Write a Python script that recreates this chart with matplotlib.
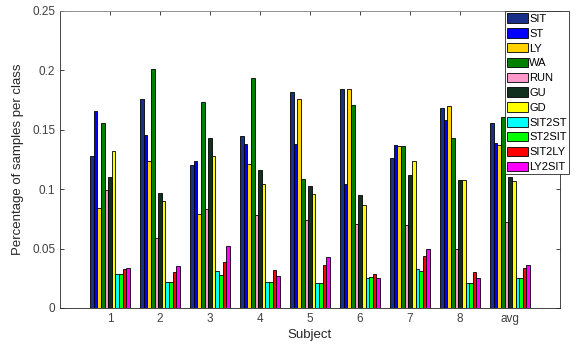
import matplotlib
matplotlib.use("Agg")
import matplotlib.pyplot as plt
import numpy as np

plt.rcParams['font.family'] = ['Liberation Sans', 'DejaVu Sans']

subjects = ["1", "2", "3", "4", "5", "6", "7", "8", "avg"]
classes = ["SIT", "ST", "LY", "WA", "RUN", "GU", "GD", "SIT2ST", "ST2SIT", "SIT2LY", "LY2SIT"]
colors = ["#1a2f8a", "#0000ff", "#ffd200", "#008000", "#ff99cc", "#12301e",
          "#ffff00", "#00ffff", "#00ff00", "#ff0000", "#ff00ff"]

# rows = subjects, columns = classes
values = np.array([
    [0.128, 0.166, 0.084, 0.156, 0.099, 0.110, 0.132, 0.029, 0.029, 0.033, 0.034],
    [0.176, 0.146, 0.124, 0.201, 0.059, 0.097, 0.090, 0.022, 0.022, 0.030, 0.035],
    [0.120, 0.124, 0.079, 0.173, 0.083, 0.143, 0.128, 0.031, 0.028, 0.039, 0.052],
    [0.145, 0.138, 0.121, 0.194, 0.078, 0.116, 0.104, 0.022, 0.022, 0.032, 0.027],
    [0.182, 0.138, 0.176, 0.109, 0.074, 0.103, 0.096, 0.021, 0.021, 0.036, 0.043],
    [0.184, 0.104, 0.184, 0.171, 0.071, 0.095, 0.087, 0.025, 0.026, 0.029, 0.025],
    [0.126, 0.137, 0.136, 0.136, 0.070, 0.112, 0.124, 0.033, 0.031, 0.044, 0.050],
    [0.168, 0.158, 0.170, 0.143, 0.050, 0.108, 0.108, 0.021, 0.021, 0.030, 0.025],
    [0.156, 0.139, 0.137, 0.161, 0.072, 0.110, 0.107, 0.025, 0.025, 0.034, 0.036],
])

fig = plt.figure(figsize=(5.78, 3.49), dpi=100)
ax = fig.add_axes([0.1038, 0.1175, 0.8652, 0.851])

x = np.arange(1, len(subjects) + 1)
n = len(classes)
w = 0.8 / n
for i, name in enumerate(classes):
    ax.bar(x - 0.4 + w * (i + 0.5), values[:, i], width=w, color=colors[i],
           edgecolor="black", linewidth=0.6, label=name)

ax.set_xlim(0, 10)
ax.set_ylim(0, 0.25)
ax.set_xticks(x)
ax.set_xticklabels(subjects)
ax.set_yticks([0, 0.05, 0.1, 0.15, 0.2, 0.25])
ax.set_yticklabels(["0", "0.05", "0.1", "0.15", "0.2", "0.25"])
ax.tick_params(direction="in", top=True, right=True, length=3, labelsize=8.5,
               colors="#262626", labelcolor="#404040", width=0.6)
for s in ax.spines.values():
    s.set_color("#262626")
    s.set_linewidth(0.6)
ax.spines["top"].set_color("#808080")

ax.set_xlabel("Subject", fontsize=9.5, color="#262626", labelpad=3)
ax.set_ylabel("Percentage of samples per class", fontsize=9.5, color="#262626", labelpad=6)

# legend box sits partly outside the axes, as in the original
leg = ax.legend(loc="upper right", bbox_to_anchor=(569 / 578, 1 - 11 / 349),
                bbox_transform=fig.transFigure, fontsize=8,
                frameon=True, fancybox=False, borderpad=0.2, labelspacing=0.38,
                handlelength=1.85, handleheight=0.95, handletextpad=0.15,
                borderaxespad=0.0)
leg.get_frame().set_edgecolor("#262626")
leg.get_frame().set_linewidth(0.6)
leg.get_frame().set_alpha(1)

fig.savefig("out.png", dpi=100)
